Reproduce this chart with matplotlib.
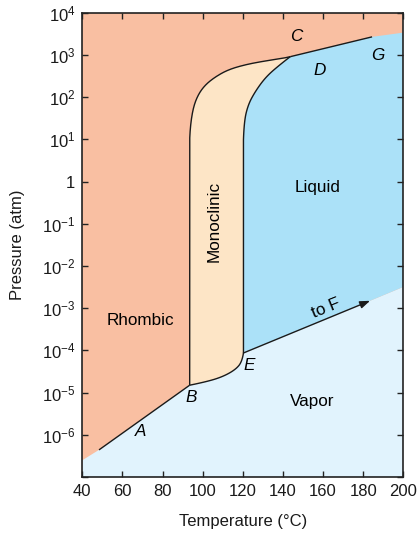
import numpy as np
import matplotlib
matplotlib.use("Agg")
import matplotlib.pyplot as plt
from matplotlib.ticker import FixedLocator, FixedFormatter
from matplotlib.bezier import BezierSegment

plt.rcParams["font.family"] = ["Liberation Sans", "DejaVu Sans"]
plt.rcParams["mathtext.fontset"] = "custom"
plt.rcParams["mathtext.rm"] = "Liberation Sans"
plt.rcParams["mathtext.it"] = "Liberation Sans:italic"

# Phase boundaries of sulfur (temperature in degC, pressure in atm)
# Rhombic-vapor sublimation curve (A up to triple point B)
sub_rh_T = [40.0, 48.3, 93.5]
sub_rh_P = [2.5e-7, 4.4e-7, 1.5e-5]

# Monoclinic-vapor curve (B to E)
sub_mono_T = [93.5, 101.2, 109.6, 116.2, 119.6, 120.3]
sub_mono_P = [1.5e-5, 1.78e-5, 2.34e-5, 3.47e-5, 5.37e-5, 8.7e-5]

# Rhombic-monoclinic curve (B up to triple point C)
rh_mono_T = [93.5, 93.5, 93.7, 95.2, 97.7, 101.2, 106.2, 112.6, 121.1, 131.1, 141.1, 143.6]
rh_mono_P = [1.5e-5, 9.8, 18.6, 56, 115, 195, 302, 447, 589, 724, 851, 912]

# Monoclinic-liquid curve (E up to C)
mono_liq_T = [120.3, 120.3, 120.6, 122.6, 126.1, 131.1, 137.1, 143.6]
mono_liq_P = [8.7e-5, 9.8, 26, 66, 135, 288, 525, 912]

# Rhombic-liquid curve (C towards G)
rh_liq_T = [143.6, 184.4, 200.0]
rh_liq_P = [912, 2690, 3390]

# Liquid-vapor curve (E towards F)
liq_vap_T = [120.3, 183.4, 200.0]
liq_vap_P = [8.7e-5, 1.5e-3, 3.2e-3]

x_ticks = [40, 60, 80, 100, 120, 140, 160, 180, 200]
y_ticks = [1e4, 1e3, 1e2, 1e1, 1, 1e-1, 1e-2, 1e-3, 1e-4, 1e-5, 1e-6, 1e-7]
y_tick_labels = [r"$10^{4}$", r"$10^{3}$", r"$10^{2}$", r"$10^{1}$", "1",
                 r"$10^{-1}$", r"$10^{-2}$", r"$10^{-3}$", r"$10^{-4}$",
                 r"$10^{-5}$", r"$10^{-6}$", ""]

c_rhombic = "#f9bfa2"
c_mono = "#fde5c6"
c_liquid = "#abe1f8"
c_vapor = "#e1f3fd"


def smooth_curve(T, P, n_straight=1):
    """Straight segments through the first n_straight points, then a
    quadratic B-spline (in T / log P space) through the rest."""
    x = np.asarray(T, float)
    y = np.log10(np.asarray(P, float))
    xs = list(x[:n_straight])
    ys = list(y[:n_straight])
    q = np.column_stack([x[n_straight - 1:], y[n_straight - 1:]])
    if len(q) < 3:
        xs += list(q[1:, 0])
        ys += list(q[1:, 1])
        return np.array(xs), 10 ** np.array(ys)
    start = q[0]
    t = np.linspace(0, 1, 25)[1:]
    for i in range(1, len(q) - 1):
        end = q[-1] if i == len(q) - 2 else (q[i] + q[i + 1]) / 2
        pts = BezierSegment(np.array([start, q[i], end]))(t)
        xs += list(pts[:, 0])
        ys += list(pts[:, 1])
        start = end
    return np.array(xs), 10 ** np.array(ys)


bm_x, bm_y = smooth_curve(sub_mono_T, sub_mono_P, 1)
rm_x, rm_y = smooth_curve(rh_mono_T, rh_mono_P, 2)
ml_x, ml_y = smooth_curve(mono_liq_T, mono_liq_P, 2)

fig = plt.figure(figsize=(4.18, 5.33), dpi=100)
ax = fig.add_axes([0.197, 0.105, 0.768, 0.871])
ax.set_yscale("log")
ax.set_xlim(40, 200)
ax.set_ylim(1e-7, 1e4)
ax.set_facecolor(c_rhombic)

# Vapor region
vx = np.concatenate([sub_rh_T, bm_x[1:], liq_vap_T[1:], [200, 40]])
vy = np.concatenate([sub_rh_P, bm_y[1:], liq_vap_P[1:], [1e-7, 1e-7]])
ax.fill(vx, vy, color=c_vapor, lw=0, zorder=1)

# Monoclinic region
mx = np.concatenate([rm_x, ml_x[::-1][1:], bm_x[::-1][1:]])
my = np.concatenate([rm_y, ml_y[::-1][1:], bm_y[::-1][1:]])
ax.fill(mx, my, color=c_mono, lw=0, zorder=1)

# Liquid region
lx = np.concatenate([ml_x, rh_liq_T[1:], liq_vap_T[::-1][:-1]])
ly = np.concatenate([ml_y, rh_liq_P[1:], liq_vap_P[::-1][:-1]])
ax.fill(lx, ly, color=c_liquid, lw=0, zorder=1)

lk = dict(color="#1a1a1a", lw=1.0, zorder=3, solid_capstyle="butt")
ax.plot(sub_rh_T[1:], sub_rh_P[1:], **lk)
ax.plot(bm_x, bm_y, **lk)
ax.plot(rm_x, rm_y, **lk)
ax.plot(ml_x, ml_y, **lk)
ax.plot(rh_liq_T[:2], rh_liq_P[:2], **lk)
ax.annotate("", xy=(liq_vap_T[1], liq_vap_P[1]), xytext=(liq_vap_T[0], liq_vap_P[0]),
            arrowprops=dict(arrowstyle="-|>,head_length=0.6,head_width=0.22",
                            color="#1a1a1a", lw=1.0, shrinkA=0, shrinkB=0),
            zorder=3)

fs = 12
fl = 12.3
ax.text(69.2, 10**-3.30, "Rhombic", fontsize=fl, ha="center", va="center", zorder=4)
ax.text(105.6, 10**-0.95, "Monoclinic", fontsize=fl, ha="center", va="center",
        rotation=90, zorder=4)
ax.text(157.4, 10**-0.15, "Liquid", fontsize=fl, ha="center", va="center", zorder=4)
ax.text(154.4, 10**-5.22, "Vapor", fontsize=fl, ha="center", va="center", zorder=4)
ax.text(161.3, 10**-3.0, "to F", fontsize=fl, ha="center", va="center",
        rotation=22, zorder=4)

pts = {"A": (69.2, -5.93), "B": (94.3, -5.12), "C": (146.5, 3.43),
       "D": (158.4, 2.63), "E": (123.2, -4.36), "G": (187.1, 2.98)}
for name, (t, lp) in pts.items():
    ax.text(t, 10**lp, name, fontsize=fl, style="italic", ha="center",
            va="center", zorder=4)

ax.xaxis.set_major_locator(FixedLocator(x_ticks))
ax.yaxis.set_major_locator(FixedLocator(y_ticks))
ax.yaxis.set_major_formatter(FixedFormatter(y_tick_labels))
ax.yaxis.set_minor_locator(FixedLocator([]))
ax.tick_params(which="both", direction="in", top=True, right=True,
               length=4, width=1.0, color="#222222", labelsize=fs,
               labelcolor="#1a1a1a", pad=5)
for sp in ax.spines.values():
    sp.set_linewidth(1.2)
    sp.set_color("#222222")
    sp.set_zorder(5)

ax.set_xlabel("Temperature (°C)", fontsize=fs, color="#1a1a1a", labelpad=11)
ax.set_ylabel("Pressure (atm)", fontsize=fs, color="#1a1a1a", labelpad=12)

fig.savefig("out.png", dpi=100)
